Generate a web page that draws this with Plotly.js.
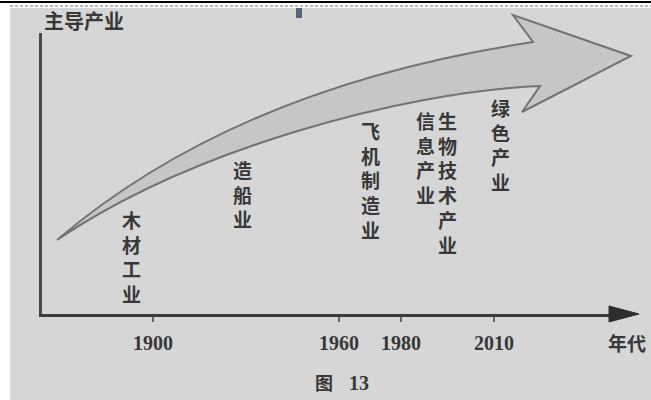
<!DOCTYPE html>
<html><head><meta charset="utf-8">
<script src="https://cdn.plot.ly/plotly-3.0.1.min.js"></script>
<style>html,body{margin:0;padding:0;background:#fff}#chart{width:651px;height:400px}</style>
</head><body><div id="chart"></div>
<script>
// ---- data ----
const industries = ['木材工业', '造船业', '飞机制造业', '信息产业', '生物技术产业', '绿色产业'];
const industryEra = [1893, 1929, 1970, 1988, 1995, 2012];
const tickYears = [1900, 1960, 1980, 2010];
const tickLabels = ['1900', '1960', '1980', '2010'];
const yAxisTitle = '主导产业';
const xAxisTitle = '年代';
const figCaption = ['图', '13'];

// ---- layout helpers ----
const W = 651, H = 400;
const M = {l: 42, r: 36, t: 33, b: 86};
const PW = W - M.l - M.r, PH = H - M.t - M.b;
const px = X => (X - M.l) / PW;
const py = Y => (H - M.b - Y) / PH;
const P = (X, Y) => px(X).toFixed(5) + ',' + py(Y).toFixed(5);
const kYear = 3.1;                       // pixels per year
const x0 = 1900 - (153 - M.l) / kYear;
const x1 = x0 + PW / kYear;

// vertical placement of the labels (pixel top of each column)
const labelTopPx = [205, 155, 116, 106, 106, 93];

const cjk = '"Noto Sans CJK SC", "Noto Sans", sans-serif';
const serif = '"Liberation Serif", "DejaVu Serif", serif';
const ink = '#383838';

const annotations = industries.map((name, i) => ({
  x: industryEra[i], y: PH - (labelTopPx[i] - M.t), xref: 'x', yref: 'y',
  text: name.split('').join('<br>'), showarrow: false,
  xanchor: 'center', yanchor: 'top', align: 'center', borderpad: 0,
  font: {family: cjk, size: 19, color: ink, weight: 'bold'}
}));
annotations.push({
  x: px(42), y: py(20), xref: 'paper', yref: 'paper', text: yAxisTitle, showarrow: false,
  xanchor: 'left', yanchor: 'middle', font: {family: cjk, size: 20, color: ink, weight: 'bold'}
});
annotations.push({
  x: px(627), y: py(342), xref: 'paper', yref: 'paper', text: xAxisTitle, showarrow: false,
  xanchor: 'center', yanchor: 'middle', font: {family: cjk, size: 19, color: ink, weight: 'bold'}
});
annotations.push({
  x: px(324), y: py(382), xref: 'paper', yref: 'paper', text: figCaption[0], showarrow: false,
  xanchor: 'center', yanchor: 'middle', font: {family: cjk, size: 18, color: ink, weight: 'bold'}
});
annotations.push({
  x: px(359), y: py(383), xref: 'paper', yref: 'paper', text: figCaption[1], showarrow: false,
  xanchor: 'center', yanchor: 'middle', font: {family: serif, size: 20, color: ink, weight: 'bold'}
});

// big curved arrow (decorative)
const arrowPath =
  'M ' + P(57, 240) +
  ' C ' + P(200, 118) + ' ' + P(380, 65) + ' ' + P(533, 42) +
  ' L ' + P(513, 15) + ' L ' + P(631, 56) + ' L ' + P(522, 112) + ' L ' + P(540, 86) +
  ' C ' + P(400, 92) + ' ' + P(190, 150) + ' ' + P(57, 240) + ' Z';

const shapes = [
  {type: 'rect', xref: 'paper', yref: 'paper', x0: px(10), x1: px(651), y0: py(400), y1: py(8),
   fillcolor: '#d6d6d6', line: {width: 0}, layer: 'below'},
  {type: 'line', xref: 'paper', yref: 'paper', x0: px(0), x1: px(651), y0: py(2), y1: py(2),
   line: {color: '#000', width: 2}, layer: 'below'},
  {type: 'line', xref: 'paper', yref: 'paper', x0: px(10), x1: px(651), y0: py(6), y1: py(6),
   line: {color: '#b3bac4', width: 2, dash: '3px,2px'}, layer: 'below'},
  {type: 'rect', xref: 'paper', yref: 'paper', x0: px(296), x1: px(302), y0: py(18), y1: py(8),
   fillcolor: '#55657d', line: {width: 0}, layer: 'below'},
  {type: 'path', xref: 'paper', yref: 'paper', path: arrowPath,
   fillcolor: '#c6c6c6', line: {color: '#737373', width: 2}, layer: 'below'},
  {type: 'path', xref: 'paper', yref: 'paper',
   path: 'M ' + P(609, 306) + ' L ' + P(639, 314) + ' L ' + P(609, 322) + ' Z',
   fillcolor: '#2e2e2e', line: {color: '#2e2e2e', width: 1}}
];

const data = [{
  x: industryEra, y: industryEra.map(() => null), type: 'scatter', mode: 'markers',
  hoverinfo: 'skip', showlegend: false
}];

const layout = {
  width: W, height: H, margin: M,
  paper_bgcolor: '#ffffff', plot_bgcolor: 'rgba(0,0,0,0)',
  showlegend: false,
  xaxis: {
    range: [x0, x1], showgrid: false, zeroline: false,
    showline: true, linecolor: '#3c3c3c', linewidth: 3,
    ticks: 'outside', ticklen: 5, tickwidth: 2, tickcolor: '#666',
    tickvals: tickYears, ticktext: tickLabels, ticklabelstandoff: 4,
    tickfont: {family: serif, size: 20, color: ink, weight: 'bold'}
  },
  yaxis: {
    range: [0, PH], showgrid: false, zeroline: false, showticklabels: false, ticks: '',
    showline: true, linecolor: '#4a4a4a', linewidth: 3
  },
  shapes: shapes,
  annotations: annotations
};

Plotly.newPlot('chart', data, layout, {staticPlot: true, displayModeBar: false});
</script></body></html>
